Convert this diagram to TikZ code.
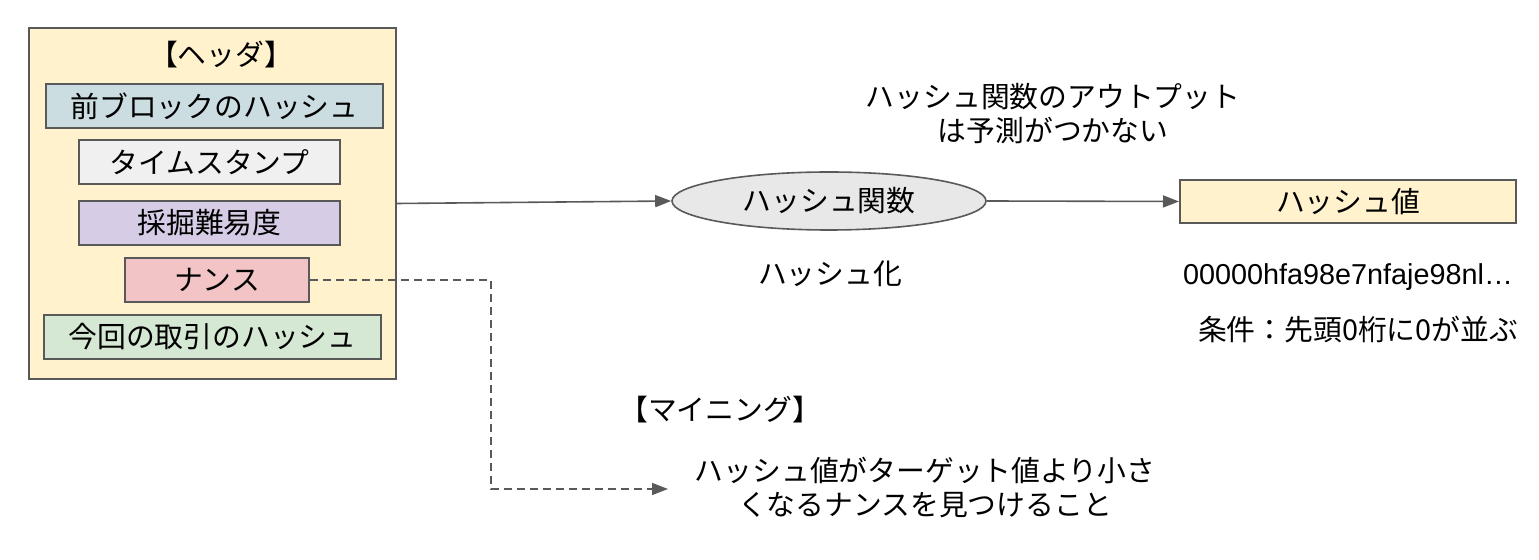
\documentclass[tikz,border=0pt]{standalone}
\usepackage{fontspec}
\setmainfont{Noto Sans CJK JP}
\newfontfamily\latinfont{Liberation Sans}
\usetikzlibrary{shapes.geometric, arrows.meta}

\definecolor{linegray}{HTML}{595959}
\definecolor{headerfill}{HTML}{FFF2CC}
\definecolor{prevfill}{HTML}{CCDDE2}
\definecolor{timefill}{HTML}{F0F0F0}
\definecolor{difffill}{HTML}{D6CCE5}
\definecolor{noncefill}{HTML}{F2C4C6}
\definecolor{txfill}{HTML}{D5E8D4}
\definecolor{funcfill}{HTML}{E8E8E8}

\begin{document}
\begin{tikzpicture}[x=0.5pt, y=-0.5pt]
    \tikzstyle{box} = [rectangle, draw=linegray, line width=1pt, inner sep=0pt, minimum height=22pt, text centered, font=\fontsize{14.4}{17}\selectfont]
    \tikzstyle{func} = [ellipse, draw=linegray, line width=0.8pt, fill=funcfill, inner sep=0pt, minimum width=157pt, minimum height=29pt, font=\fontsize{14.4}{17}\selectfont]
    \tikzstyle{label} = [align=center, inner sep=0pt, font=\fontsize{14.4}{17}\selectfont]
    \tikzstyle{arrow} = [line width=0.8pt, draw=linegray, -{Triangle[length=8pt, width=6pt]}]
    \tikzstyle{dasharrow} = [arrow, dash pattern=on 4pt off 2.5pt]

    \useasboundingbox (0,0) rectangle (1539,560);

    % block header
    \node (header) [box, fill=headerfill, minimum width=183.5pt, minimum height=175.5pt] at (212.5,203.5) {};
    \node (headertitle) [label] at (221,55) {【ヘッダ】};
    \node (prevhash) [box, fill=prevfill, minimum width=168.5pt] at (214.5,106) {前ブロックのハッシュ};
    \node (stamp) [box, fill=timefill, minimum width=130.5pt] at (209.5,162) {タイムスタンプ};
    \node (difficulty) [box, fill=difffill, minimum width=130.5pt] at (209.5,223) {採掘難易度};
    \node (nonce) [box, fill=noncefill, minimum width=92pt] at (217,280) {ナンス};
    \node (txhash) [box, fill=txfill, minimum width=168.5pt] at (212.5,337) {今回の取引のハッシュ};

    % hashing
    \node (hashfn) [func] at (829,201) {ハッシュ関数};
    \node (hashing) [label] at (830,274) {ハッシュ化};
    \node (outnote) [label] at (1053,114) {ハッシュ関数のアウトプット\\は予測がつかない};
    \node (hashval) [box, fill=headerfill, minimum width=168pt, minimum height=21.5pt] at (1348,201.5) {ハッシュ値};
    \node (hexval) [label, font=\fontsize{14.4}{17}\latinfont] at (1348,277) {00000hfa98e7nfaje98nl…};
    \node (cond) [label] at (1358,330) {条件：先頭0桁に0が並ぶ};

    % mining
    \node (mining) [label] at (720,410) {【マイニング】};
    \node (goal) [label] at (925,487) {ハッシュ値がターゲット値より小さ\\くなるナンスを見つけること};
    \coordinate (bend) at (491,489);
    \coordinate (goalend) at (668,489);

    \draw [arrow] (header.east) -- (hashfn.west);
    \draw [arrow] (hashfn.east) -- (hashval.west);
    \draw [dasharrow] (nonce.east) -| (bend) -- (goalend);
\end{tikzpicture}
\end{document}
